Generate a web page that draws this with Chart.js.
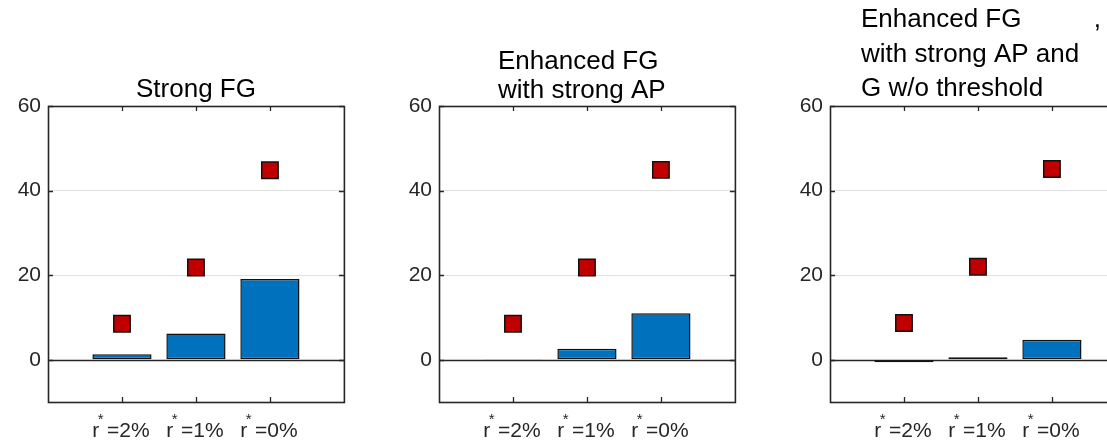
<!DOCTYPE html>
<html><head><meta charset="utf-8">
<script src="https://cdn.jsdelivr.net/npm/chart.js@4/dist/chart.umd.min.js"></script>
<style>
html,body{margin:0;padding:0;background:#fff;width:1107px;height:441px;overflow:hidden;position:relative}
canvas{position:absolute;top:0}
</style></head><body>
<canvas id="c1"></canvas><canvas id="c2"></canvas><canvas id="c3"></canvas>
<script>
// ---- data ----
const categories = ['r*=2%', 'r*=1%', 'r*=0%'];
const yTicks = [0, 20, 40, 60];
const barsStrongFG = [1.3, 6.2, 19.1];
const markersStrongFG = [8.5, 21.8, 44.8];
const barsEnhanced = [0.05, 2.6, 11.0];
const markersEnhanced = [8.5, 21.8, 44.9];
const barsEnhancedG = [-0.6, 0.6, 4.7];
const markersEnhancedG = [8.7, 22.0, 45.1];
const titleStrongFG = ['Strong FG'];
const titleEnhanced = ['Enhanced FG', 'with strong AP'];
const titleEnhancedG = ['Enhanced FG          ,', 'with strong AP and', 'G w/o threshold'];

const FONT = '"Liberation Sans", Arial, Helvetica, sans-serif';
const AX = '#262626';

const panels = [
  {id: 'c1', left: 0,   bars: barsStrongFG,  markers: markersStrongFG,  title: titleStrongFG,  baselines: [97],          titleOffset: null},
  {id: 'c2', left: 391, bars: barsEnhanced,  markers: markersEnhanced,  title: titleEnhanced,  baselines: [69, 98],      titleOffset: 59},
  {id: 'c3', left: 782, bars: barsEnhancedG, markers: markersEnhancedG, title: titleEnhancedG, baselines: [27, 61.5, 95.5], titleOffset: 31}
];

const pad = arr => [null, ...arr, null];

const matlabAxes = {
  id: 'matlabAxes',
  beforeDatasetsDraw(chart) {
    const {ctx, chartArea: a, scales: {y}} = chart;
    const y0 = Math.round(y.getPixelForValue(0)) + 0.5;
    ctx.save();
    ctx.strokeStyle = AX; ctx.lineWidth = 1.3;
    ctx.beginPath(); ctx.moveTo(a.left, y0); ctx.lineTo(a.right, y0); ctx.stroke();
    ctx.restore();
  },
  afterDatasetsDraw(chart) {
    const {ctx, chartArea: a, scales: {x, y}} = chart;
    ctx.save();
    ctx.strokeStyle = AX; ctx.lineWidth = 1.6;
    ctx.strokeRect(a.left + 0.5, a.top + 0.5, a.right - a.left, a.bottom - a.top);
    ctx.lineWidth = 1.3;
    ctx.beginPath();
    const tl = 5;
    for (let i = 1; i <= categories.length; i++) {
      const px = Math.round(x.getPixelForValue(i)) + 0.5;
      ctx.moveTo(px, a.top); ctx.lineTo(px, a.top + tl);
      ctx.moveTo(px, a.bottom); ctx.lineTo(px, a.bottom - tl);
    }
    yTicks.forEach(v => {
      const py = Math.round(y.getPixelForValue(v)) + 0.5;
      ctx.moveTo(a.left, py); ctx.lineTo(a.left + tl, py);
      ctx.moveTo(a.right, py); ctx.lineTo(a.right - tl, py);
    });
    ctx.stroke();
    ctx.restore();
  },
  afterDraw(chart) {
    const {ctx, chartArea: a, scales: {x}} = chart;
    const p = chart.options.plugins.matlabAxes;
    ctx.save();
    // x tick labels with superscript asterisk
    ctx.fillStyle = AX;
    ctx.textBaseline = 'alphabetic';
    ctx.textAlign = 'left';
    categories.forEach((lab, i) => {
      const [base, rest] = lab.split('*');
      ctx.font = '21px ' + FONT;
      const wb = ctx.measureText(base).width;
      const wr = ctx.measureText(rest).width;
      ctx.font = '15px ' + FONT;
      const ws = ctx.measureText('*').width + 2;
      const total = wb + ws + wr;
      const cx = x.getPixelForValue(i + 1);
      const sx = cx - total / 2 - 1;
      const by = a.bottom + 35;
      ctx.font = '21px ' + FONT;
      ctx.fillText(base, sx, by);
      ctx.font = '15px ' + FONT;
      ctx.fillText('*', sx + wb - 1.5, by - 13);
      ctx.font = '21px ' + FONT;
      ctx.fillText(rest, sx + wb + ws, by);
    });
    // title
    ctx.fillStyle = '#000';
    ctx.font = '26px ' + FONT;
    p.title.forEach((line, i) => {
      if (p.titleOffset === null) {
        ctx.textAlign = 'center';
        ctx.fillText(line, (a.left + a.right) / 2, p.baselines[i]);
      } else {
        ctx.textAlign = 'left';
        ctx.fillText(line, a.left + p.titleOffset, p.baselines[i]);
      }
    });
    ctx.restore();
  }
};

panels.forEach(pn => {
  const cv = document.getElementById(pn.id);
  const W = 48 + 297 + 12, H = 441;
  cv.width = W; cv.height = H;
  cv.style.width = W + 'px'; cv.style.height = H + 'px';
  cv.style.left = pn.left + 'px';
  new Chart(cv, {
    data: {
      labels: ['', ...categories, ''],
      datasets: [
        {type: 'line', data: pad(pn.markers), showLine: false, pointStyle: 'rect',
         pointRadius: 11.6, pointHoverRadius: 11.6, pointBackgroundColor: '#C00000',
         pointBorderColor: '#111', pointBorderWidth: 1.5, order: 0},
        {type: 'bar', data: pad(pn.bars), backgroundColor: '#0072BD', borderColor: '#111',
         borderWidth: 1.5, borderSkipped: false, barPercentage: 0.8, categoryPercentage: 1, order: 1}
      ]
    },
    options: {
      responsive: false, animation: false, devicePixelRatio: 1,
      layout: {padding: {top: 106, bottom: 0, left: 0, right: 12}},
      plugins: {
        legend: {display: false}, tooltip: {enabled: false}, title: {display: false},
        matlabAxes: {title: pn.title, baselines: pn.baselines, titleOffset: pn.titleOffset}
      },
      scales: {
        x: {type: 'category', offset: false, grid: {display: false}, border: {display: false},
            ticks: {display: false},
            afterFit(s) { s.height = 39; s.paddingLeft = 0; s.paddingRight = 0; }},
        y: {type: 'linear', min: -10, max: 60,
            afterBuildTicks(s) { s.ticks = yTicks.map(v => ({value: v})); },
            grid: {drawTicks: false, lineWidth: 1,
                   color: c => (c.tick && c.tick.value !== 0 && c.tick.value !== 60) ? '#e0e0e0' : 'rgba(0,0,0,0)'},
            border: {display: false},
            ticks: {font: {family: FONT, size: 21}, color: AX, padding: 7},
            afterFit(s) { s.width = 48; s.paddingTop = 0; s.paddingBottom = 0; }}
      }
    },
    plugins: [matlabAxes]
  });
});
</script>
</body></html>
